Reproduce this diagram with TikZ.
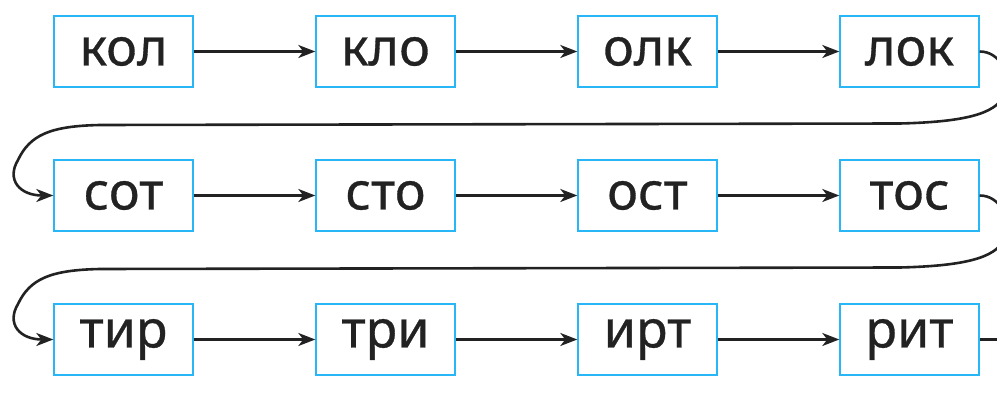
\documentclass[tikz,border=0pt]{standalone}
\usepackage{fontspec}
\newfontfamily\lab{Noto Sans}[FakeBold=0.6]
\usetikzlibrary{arrows.meta}
\definecolor{boxblue}{RGB}{41,182,246}
\definecolor{ink}{RGB}{34,34,34}
\begin{document}
\begin{tikzpicture}[x=1pt,y=-1pt,
  wordbox/.style={draw=boxblue,line width=1.4pt,minimum width=139pt,minimum height=71pt,inner sep=0pt,text=ink,font=\lab\fontsize{52}{52}\selectfont},
  link/.style={draw=ink,line width=2.6pt,-{Stealth[length=17pt,width=13pt,inset=5pt]}},
  plain/.style={draw=ink,line width=2.6pt}]
\useasboundingbox (0,0) rectangle (997,406);
\clip (0,0) rectangle (997,406);
\node[wordbox] (a1) at (123.5,51.5) {кол};
\node[wordbox] (a2) at (385.5,51.5) {кло};
\node[wordbox] (a3) at (647.5,51.5) {олк};
\node[wordbox] (a4) at (909.5,51.5) {лок};
\node[wordbox] (b1) at (123.5,195.5) {сот};
\node[wordbox] (b2) at (385.5,195.5) {сто};
\node[wordbox] (b3) at (647.5,195.5) {ост};
\node[wordbox] (b4) at (909.5,195.5) {тос};
\node[wordbox] (c1) at (123.5,339.5) {тир};
\node[wordbox] (c2) at (385.5,339.5) {три};
\node[wordbox] (c3) at (647.5,339.5) {ирт};
\node[wordbox] (c4) at (909.5,339.5) {рит};
\coordinate (cend) at (1005,339.5);
\draw[link] (a1) -- (a2);
\draw[link] (a2) -- (a3);
\draw[link] (a3) -- (a4);
\draw[link] (b1) -- (b2);
\draw[link] (b2) -- (b3);
\draw[link] (b3) -- (b4);
\draw[link] (c1) -- (c2);
\draw[link] (c2) -- (c3);
\draw[link] (c3) -- (c4);
\draw[link] (a4.east) .. controls (1000,51.5) and (1012,75) .. (1004,95)
  .. controls (996,115) and (960,122) .. (900,123.5) -- (100,125)
  .. controls (50,126) and (30,135) .. (18,160)
  .. controls (6,180) and (20,195.5) .. (b1.west);
\draw[link] (b4.east) .. controls (1000,195.5) and (1012,219) .. (1004,239)
  .. controls (996,259) and (960,266) .. (900,267.5) -- (100,269)
  .. controls (50,270) and (30,279) .. (18,304)
  .. controls (6,324) and (20,339.5) .. (c1.west);
\draw[plain] (c4.east) -- (cend);
\end{tikzpicture}
\end{document}
